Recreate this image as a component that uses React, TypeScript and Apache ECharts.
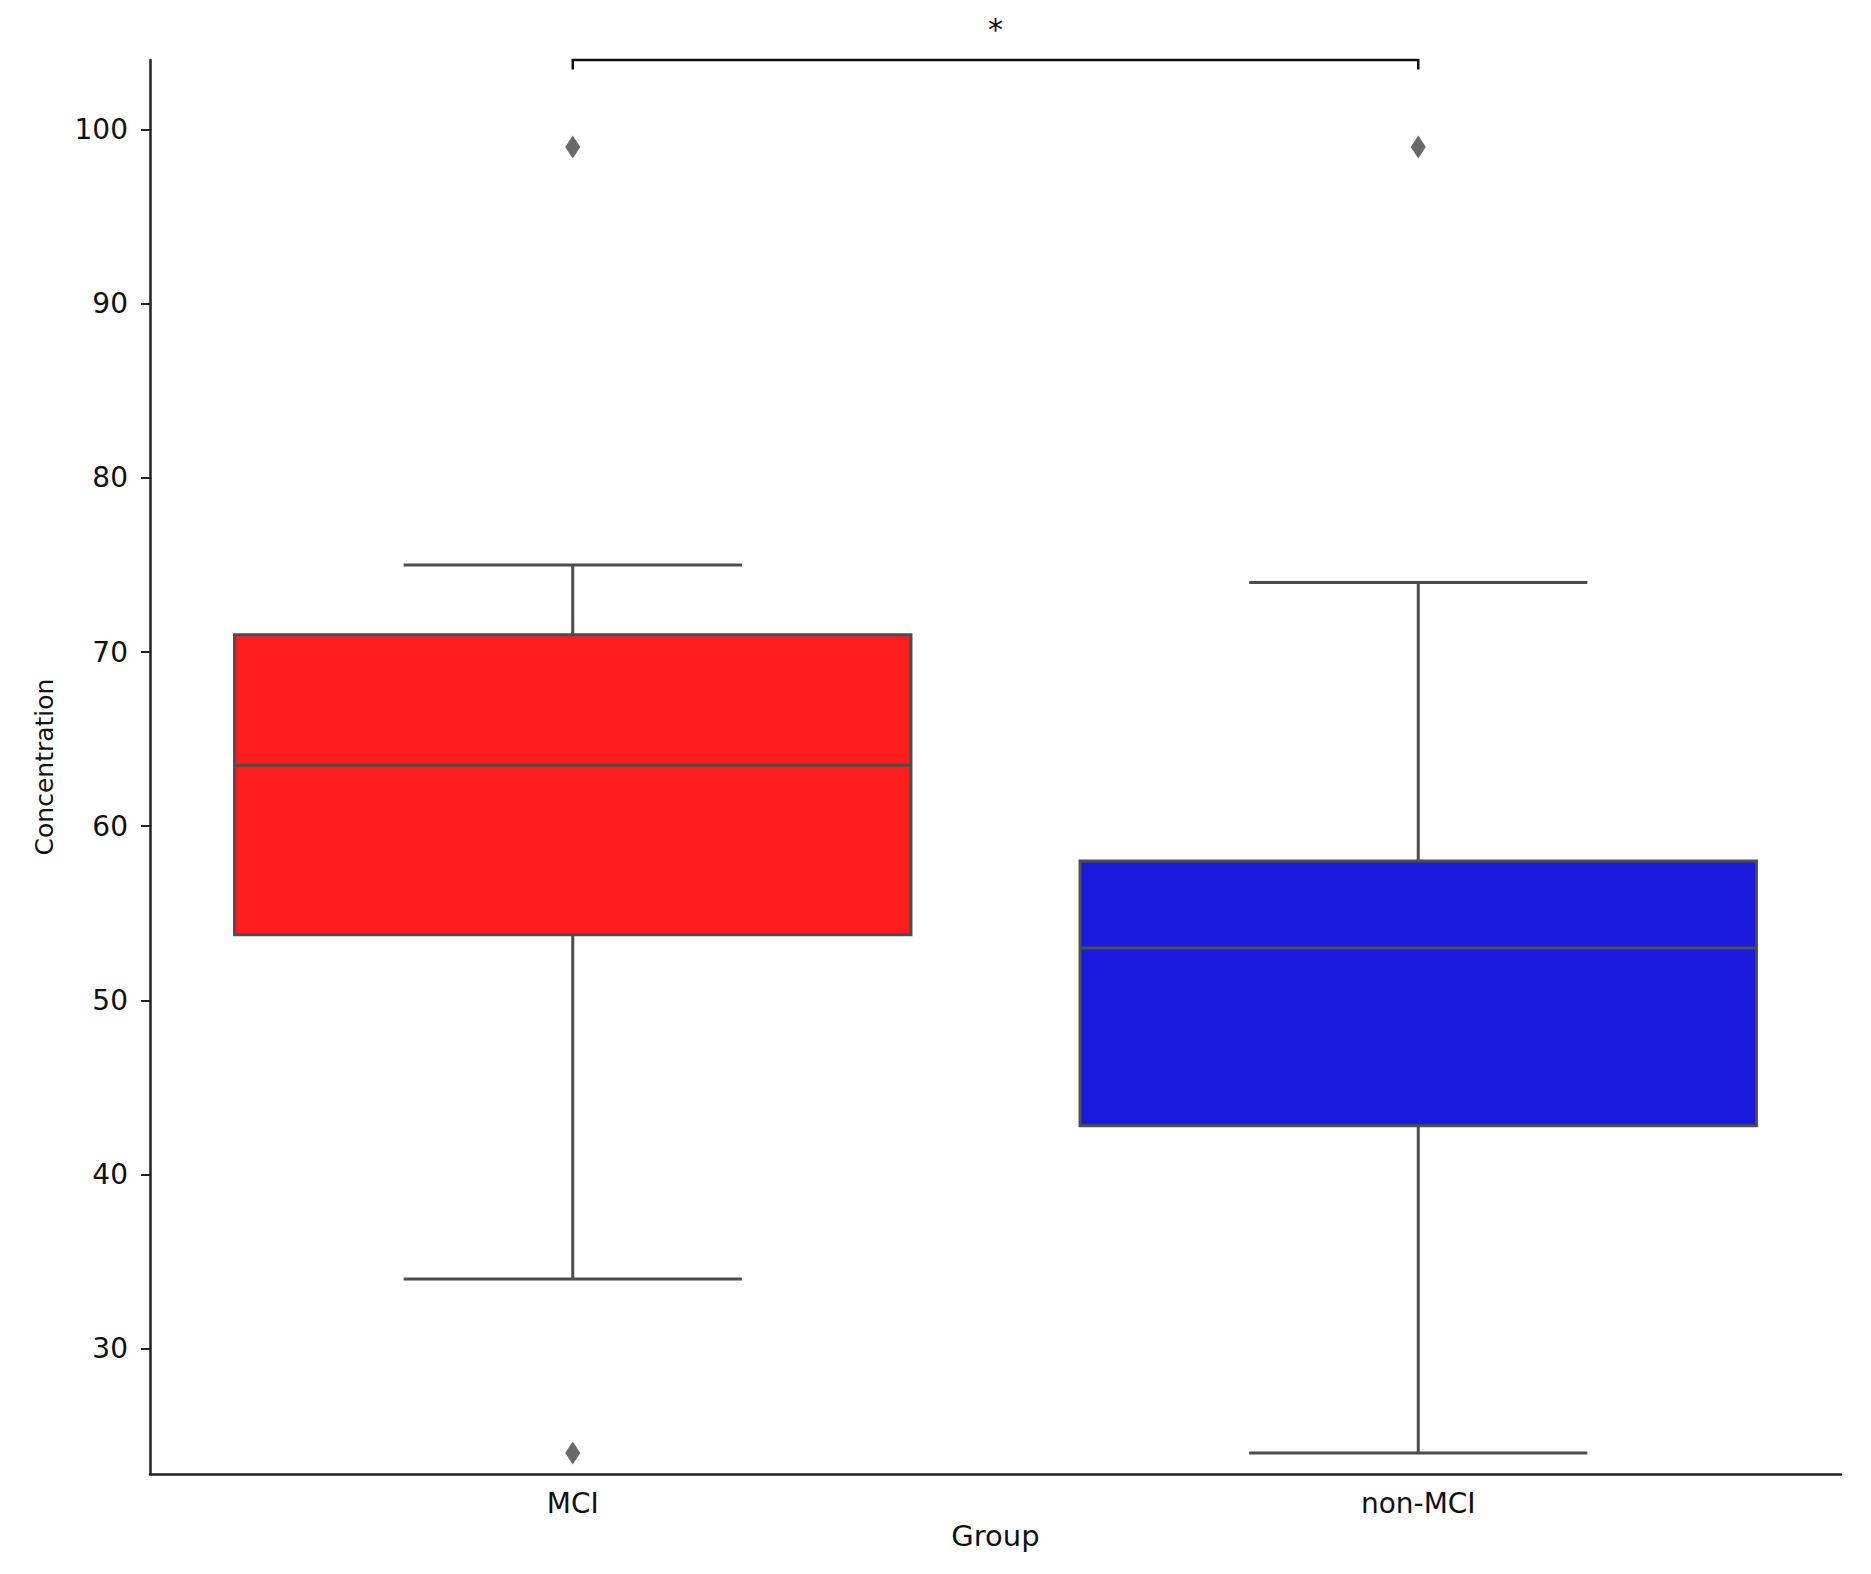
import React, { useEffect, useRef } from 'react';
import * as echarts from 'echarts';

// ---- data ----
const categories = ['MCI', 'non-MCI'];
const whiskerLow = [34, 24];
const q1 = [53.77, 42.8];
const medians = [63.5, 53.0];
const q3 = [71.0, 58.0];
const whiskerHigh = [75, 74];
const outlierGroup = [0, 0, 1];
const outlierValues = [99, 24, 99];
const yTicks = [30, 40, 50, 60, 70, 80, 90, 100];
const yMin = 22.8;
const yMax = 104;
const boxColors = ['#FE1C1C', '#1A1ADF'];
const sigPair = [0, 1];
const sigTop = 104;
const sigTickEnd = 103.45;
const sigLabel = '*';

const FONT = 'DejaVu Sans';
const LINE = '#4d4d4d';
const AXIS = '#222222';

export default function App() {
  const ref = useRef<HTMLDivElement>(null);

  useEffect(() => {
    if (!ref.current) return;
    const chart = echarts.init(ref.current, null, { renderer: 'svg' });

    const boxData = categories.map((_, i) => [i, whiskerLow[i], q1[i], medians[i], q3[i], whiskerHigh[i]]);
    const outlierData = outlierGroup.map((g, i) => [g, outlierValues[i]]);

    const option: any = {
      animation: false,
      backgroundColor: '#ffffff',
      textStyle: { fontFamily: FONT },
      grid: { left: 150, right: 30, top: 60, bottom: 100 },
      xAxis: {
        type: 'category',
        data: categories,
        boundaryGap: true,
        name: 'Group',
        nameLocation: 'middle',
        nameGap: 47,
        nameTextStyle: { fontSize: 29, color: '#111', fontFamily: FONT },
        axisLine: { lineStyle: { color: AXIS, width: 2.5 } },
        axisTick: { alignWithLabel: true, length: 9, lineStyle: { color: AXIS, width: 2 } },
        axisLabel: { margin: 15, fontSize: 28, color: '#111', fontFamily: FONT },
        splitLine: { show: false },
      },
      yAxis: {
        type: 'value',
        min: yMin,
        max: yMax,
        name: 'Concentration',
        nameLocation: 'middle',
        nameGap: 93,
        nameTextStyle: { fontSize: 25, color: '#111', fontFamily: FONT },
        axisLine: { show: true, lineStyle: { color: AXIS, width: 2.5 } },
        axisTick: { show: true, length: 9, customValues: yTicks, lineStyle: { color: AXIS, width: 2 } },
        axisLabel: { margin: 22, fontSize: 28, color: '#111', fontFamily: FONT, customValues: yTicks },
        splitLine: { show: false },
      },
      series: [
        {
          type: 'custom',
          name: 'box',
          coordinateSystem: 'cartesian2d',
          data: boxData,
          encode: { x: 0, y: [1, 2, 3, 4, 5] },
          renderItem: (params: any, api: any) => {
            const xi = api.value(0);
            const band = api.size([1, 0])[0];
            const boxW = band * 0.8;
            const capW = boxW / 2;
            const pLow = api.coord([xi, api.value(1)]);
            const pQ1 = api.coord([xi, api.value(2)]);
            const pMed = api.coord([xi, api.value(3)]);
            const pQ3 = api.coord([xi, api.value(4)]);
            const pHigh = api.coord([xi, api.value(5)]);
            const cx = pMed[0];
            const lineStyle = { stroke: LINE, lineWidth: 3, fill: null };
            return {
              type: 'group',
              children: [
                { type: 'line', shape: { x1: cx, y1: pQ1[1], x2: cx, y2: pLow[1] }, style: lineStyle },
                { type: 'line', shape: { x1: cx, y1: pQ3[1], x2: cx, y2: pHigh[1] }, style: lineStyle },
                { type: 'line', shape: { x1: cx - capW / 2, y1: pLow[1], x2: cx + capW / 2, y2: pLow[1] }, style: lineStyle },
                { type: 'line', shape: { x1: cx - capW / 2, y1: pHigh[1], x2: cx + capW / 2, y2: pHigh[1] }, style: lineStyle },
                {
                  type: 'rect',
                  shape: { x: cx - boxW / 2, y: pQ3[1], width: boxW, height: pQ1[1] - pQ3[1] },
                  style: { fill: boxColors[params.dataIndex], stroke: LINE, lineWidth: 3 },
                },
                { type: 'line', shape: { x1: cx - boxW / 2, y1: pMed[1], x2: cx + boxW / 2, y2: pMed[1] }, style: lineStyle },
              ],
            };
          },
          z: 2,
        },
        {
          type: 'scatter',
          name: 'outliers',
          data: outlierData,
          symbol: 'diamond',
          symbolSize: [15, 23],
          itemStyle: { color: '#444444' },
          z: 3,
        },
        {
          type: 'custom',
          name: 'significance',
          coordinateSystem: 'cartesian2d',
          data: [[sigPair[0], sigPair[1], sigTickEnd, sigTop]],
          encode: { x: [0, 1], y: [2, 3] },
          clip: false,
          renderItem: (params: any, api: any) => {
            const a0 = api.coord([api.value(0), api.value(2)]);
            const a1 = api.coord([api.value(0), api.value(3)]);
            const b1 = api.coord([api.value(1), api.value(3)]);
            const b0 = api.coord([api.value(1), api.value(2)]);
            return {
              type: 'group',
              children: [
                {
                  type: 'polyline',
                  shape: { points: [a0, a1, b1, b0] },
                  style: { stroke: '#111', lineWidth: 2.5, fill: null },
                },
                {
                  type: 'text',
                  x: (a1[0] + b1[0]) / 2,
                  y: a1[1] - 31,
                  style: {
                    text: sigLabel,
                    fontSize: 30,
                    fontFamily: FONT,
                    fill: '#111',
                    align: 'center',
                    verticalAlign: 'middle',
                  },
                },
              ],
            };
          },
          z: 4,
        },
      ],
    };

    chart.setOption(option);
    return () => chart.dispose();
  }, []);

  return (
    <div
      ref={ref}
      style={{ position: 'fixed', left: 0, top: 0, width: 1871, height: 1574, background: '#fff' }}
    />
  );
}
